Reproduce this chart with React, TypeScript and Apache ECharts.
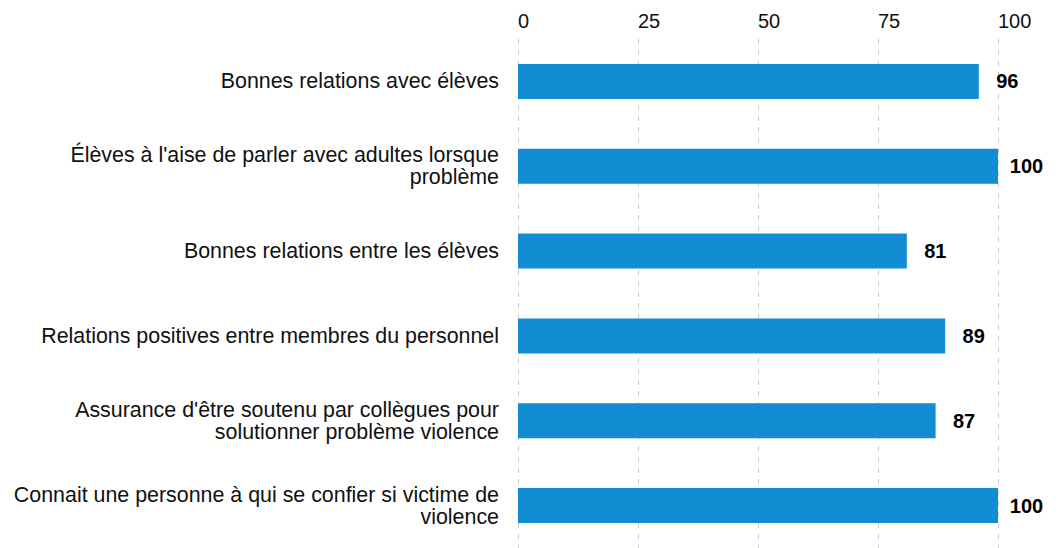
import React, { useEffect, useRef } from "react";
import * as echarts from "echarts";

const categories = [
  "Bonnes relations avec élèves",
  "Élèves à l'aise de parler avec adultes lorsque\nproblème",
  "Bonnes relations entre les élèves",
  "Relations positives entre membres du personnel",
  "Assurance d'être soutenu par collègues pour\nsolutionner problème violence",
  "Connait une personne à qui se confier si victime de\nviolence",
];
const values = [96, 100, 81, 89, 87, 100];
const xTicks = [0, 25, 50, 75, 100];

const FONT = "'Liberation Sans', Arial, sans-serif";

export default function App() {
  const ref = useRef<HTMLDivElement>(null);
  useEffect(() => {
    document.body.style.margin = "0";
    document.body.style.overflow = "hidden";
    const chart = echarts.init(ref.current!, null, { renderer: "svg" });
    chart.setOption({
      animation: false,
      textStyle: { fontFamily: FONT },
      grid: { left: 518, right: 64, top: 39, bottom: -6, containLabel: false },
      xAxis: {
        type: "value",
        position: "top",
        min: xTicks[0],
        max: xTicks[xTicks.length - 1],
        interval: 25,
        axisLine: { show: false },
        axisTick: { show: false },
        axisLabel: {
          color: "#111",
          fontSize: 20,
          align: "left",
          margin: 8,
          fontFamily: FONT,
        },
        splitLine: {
          show: true,
          lineStyle: { color: "#cccccc", type: [5, 6], width: 1 },
        },
      },
      yAxis: {
        type: "category",
        data: categories,
        inverse: true,
        axisLine: { show: false },
        axisTick: { show: false },
        axisLabel: {
          color: "#111",
          fontSize: 21.4,
          lineHeight: 22,
          margin: 19,
          align: "right",
          fontFamily: FONT,
        },
      },
      series: [
        {
          type: "bar",
          data: values,
          barWidth: 35,
          itemStyle: { color: "#128cd2" },
          label: {
            show: true,
            position: "right",
            distance: 28.5,
            align: "center",
            color: "#000",
            fontWeight: "bold",
            fontSize: 20,
            fontFamily: FONT,
          },
        },
      ],
    });
    return () => chart.dispose();
  }, []);
  return <div ref={ref} style={{ width: 1062, height: 548 }} />;
}
